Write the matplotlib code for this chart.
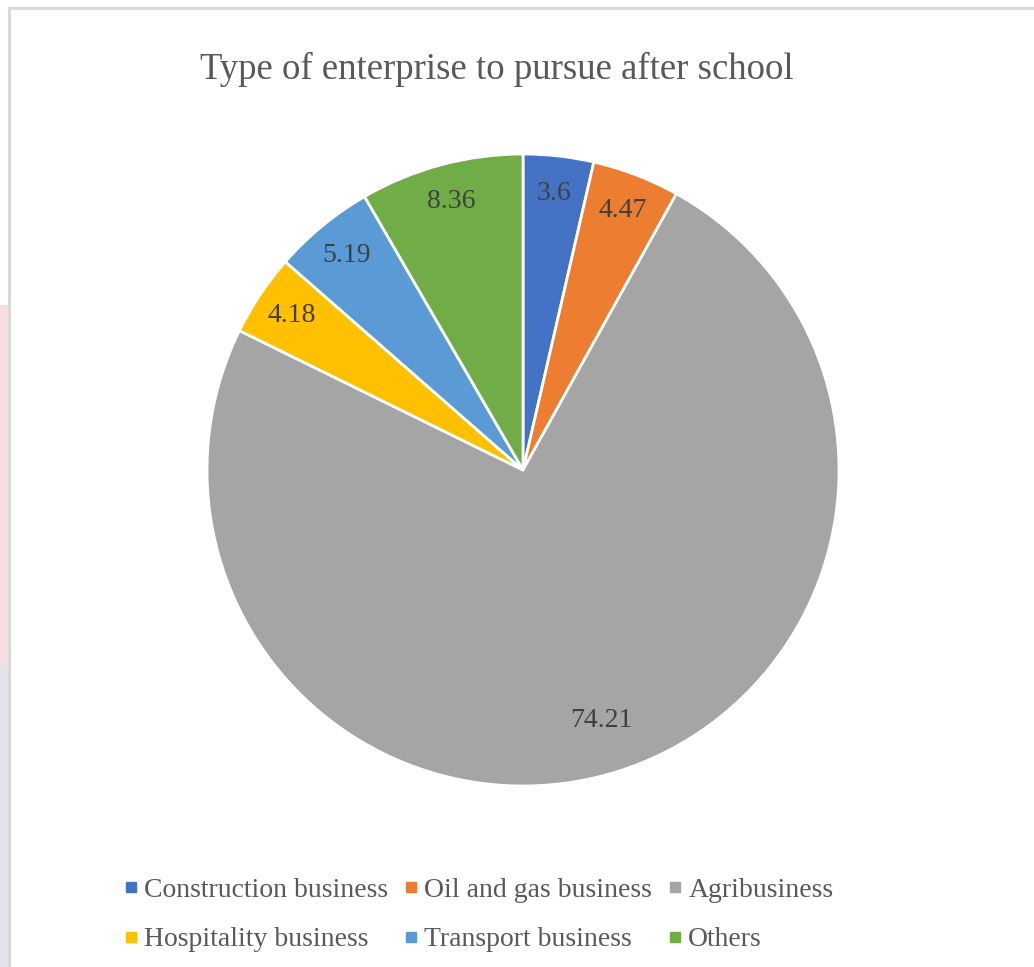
"""Pie chart: type of enterprise to pursue after school."""

import matplotlib.pyplot as plt
import numpy as np
from matplotlib.lines import Line2D
from matplotlib.patches import Rectangle

plt.rcParams["font.family"] = ["Liberation Serif", "DejaVu Serif"]

categories = [
    "Construction business",
    "Oil and gas business",
    "Agribusiness",
    "Hospitality business",
    "Transport business",
    "Others",
]
shares = [3.6, 4.47, 74.21, 4.18, 5.19, 8.36]
share_labels = ["3.6", "4.47", "74.21", "4.18", "5.19", "8.36"]
colors = ["#4472C4", "#ED7D31", "#A5A5A5", "#FFC000", "#5B9BD5", "#70AD47"]

W, H = 1034, 967
fig = plt.figure(figsize=(W / 100, H / 100), dpi=100)

# slide background peeking out on the left of the screenshot
fig.patches.append(Rectangle((0, 1 - 665 / H), 9 / W, 360 / H, transform=fig.transFigure,
                             facecolor="#F8DEE1", edgecolor="none", zorder=-2))
fig.patches.append(Rectangle((0, 0), 9 / W, 1 - 665 / H, transform=fig.transFigure,
                             facecolor="#E2E4EC", edgecolor="none", zorder=-2))

# chart frame (screenshot crops the right and bottom edges)
fig.patches.append(
    Rectangle((9 / W, -0.1), 1.2, (H - 8) / H + 0.1, transform=fig.transFigure,
              fill=False, edgecolor="#D9D9D9", linewidth=2.2, zorder=-1)
)

ax = fig.add_axes([207 / W, 181 / H, 632 / W, 632 / H])
wedges, _ = ax.pie(
    shares,
    colors=colors,
    startangle=90,
    counterclock=False,
    wedgeprops={"edgecolor": "white", "linewidth": 2},
)
ax.set_xlim(-1, 1)
ax.set_ylim(-1, 1)
ax.set_aspect("equal")
ax.axis("off")

# value labels sit near the rim, like Excel's best-fit
for w, lab in zip(wedges, share_labels):
    mid = np.deg2rad((w.theta1 + w.theta2) / 2)
    d = 0.83 if float(lab) > 50 else 0.88
    ax.text(d * np.cos(mid), d * np.sin(mid), lab, ha="center", va="center",
            fontsize=20, color="#404040")

fig.text(497 / W, 1 - 69 / H, "Type of enterprise to pursue after school",
         ha="center", va="center", fontsize=26.5, color="#595959")

handles = [
    Line2D([], [], marker="s", linestyle="none", markersize=7,
           markerfacecolor=c, markeredgecolor=c)
    for c in colors
]
# column-wise fill: reorder so rows read left to right
order = [0, 3, 1, 4, 2, 5]
fig.legend(
    [handles[i] for i in order],
    [categories[i] for i in order],
    loc="center",
    bbox_to_anchor=(479 / W, 1 - 915 / H),
    ncol=3,
    frameon=False,
    fontsize=20,
    handlelength=0.45,
    handletextpad=0.25,
    columnspacing=0.6,
    labelspacing=0.85,
    labelcolor="#595959",
)

fig.savefig("out.png", dpi=100)
